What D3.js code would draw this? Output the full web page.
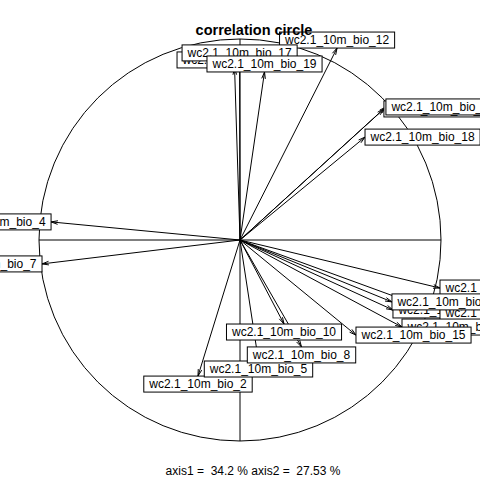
<!DOCTYPE html>
<html><head><meta charset="utf-8">
<script src="https://cdn.jsdelivr.net/npm/d3@7"></script>
<style>html,body{margin:0;padding:0;background:#fff;}svg{display:block;}</style>
</head><body>
<svg id="chart" width="480" height="480"></svg>
<script>
const varNames = ["wc2.1_10m_bio_1","wc2.1_10m_bio_2","wc2.1_10m_bio_3","wc2.1_10m_bio_4","wc2.1_10m_bio_5",
  "wc2.1_10m_bio_6","wc2.1_10m_bio_7","wc2.1_10m_bio_8","wc2.1_10m_bio_9","wc2.1_10m_bio_10",
  "wc2.1_10m_bio_11","wc2.1_10m_bio_12","wc2.1_10m_bio_13","wc2.1_10m_bio_14","wc2.1_10m_bio_15",
  "wc2.1_10m_bio_16","wc2.1_10m_bio_17","wc2.1_10m_bio_18","wc2.1_10m_bio_19"];
const axis1 = [0.761,-0.209,0.995,-0.940,0.092,0.995,-0.985,0.306,0.806,0.219,0.756,0.483,0.716,-0.027,0.577,0.726,-0.002,0.622,0.122];
const axis2 = [-0.348,-0.677,-0.239,0.090,-0.602,-0.363,-0.119,-0.532,-0.433,-0.418,-0.308,0.955,0.652,0.856,-0.473,0.662,0.891,0.512,0.836];
const inertia = [34.2, 27.53];
const titleText = "correlation circle";

const svg = d3.select("#chart");
const cx = 240, cy = 240, R = 201;
const x = d3.scaleLinear().domain([-1,1]).range([cx-R, cx+R]);
const y = d3.scaleLinear().domain([-1,1]).range([cy+R, cy-R]);
const font = "'Liberation Sans', Arial, sans-serif";

// circle and axes
svg.append("circle").attr("cx", x(0)).attr("cy", y(0)).attr("r", x(1)-x(0))
  .attr("fill","none").attr("stroke","#000").attr("stroke-width",1);
svg.append("line").attr("x1",x(-1)).attr("x2",x(1)).attr("y1",y(0)).attr("y2",y(0)).attr("stroke","#000");
svg.append("line").attr("x1",x(0)).attr("x2",x(0)).attr("y1",y(1)).attr("y2",y(-1)).attr("stroke","#000");

const data = varNames.map((n,i)=>({name:n, a:axis1[i], b:axis2[i]}));

// arrows
const ah = 7, ang = 15*Math.PI/180;
const g = svg.append("g");
data.forEach(d=>{
  const x0=x(0), y0=y(0), x1=x(d.a), y1=y(d.b);
  const th = Math.atan2(y1-y0, x1-x0);
  const p1 = [x1 - ah*Math.cos(th-ang), y1 - ah*Math.sin(th-ang)];
  const p2 = [x1 - ah*Math.cos(th+ang), y1 - ah*Math.sin(th+ang)];
  g.append("line").attr("x1",x0).attr("y1",y0).attr("x2",x1).attr("y2",y1).attr("stroke","#000");
  g.append("path").attr("d",`M${p1[0]},${p1[1]}L${x1},${y1}L${p2[0]},${p2[1]}`)
    .attr("fill","none").attr("stroke","#000");
});

// labels (boxes)
const pad = 5.5, hh = 8;
data.forEach(d=>{
  const lg = svg.append("g");
  const rect = lg.append("rect").attr("fill","#fff").attr("stroke","#000");
  const t = lg.append("text").text(d.name).attr("font-family",font).attr("font-size","12px")
    .attr("text-anchor","middle").attr("fill","#000");
  const w = t.node().getComputedTextLength() + 2*pad;
  const px = x(d.a), py = y(d.b);
  const xr = d.a, yr = d.b;
  let bx, by; // box center
  if (xr > yr && xr > -yr) { bx = px + w/2; by = py; }
  else if (xr > yr && xr <= -yr) { bx = px; by = py + hh; }
  else if (xr <= yr && xr <= -yr) { bx = px - w/2; by = py; }
  else { bx = px; by = py - hh; }
  rect.attr("x", bx - w/2).attr("y", by - hh).attr("width", w).attr("height", 2*hh);
  t.attr("x", bx).attr("y", by).attr("dy","0.36em");
});

// title
svg.append("text").attr("x",254).attr("y",35).attr("text-anchor","middle")
  .attr("font-family",font).attr("font-weight","bold").attr("font-size","14.5px").text(titleText);

// footer
svg.append("text").attr("x",253).attr("y",475).attr("text-anchor","middle")
  .attr("font-family",font).attr("font-size","12px").style("white-space","pre")
  .text(`axis1 =  ${inertia[0]} % axis2 =  ${inertia[1]} %`);
</script>
</body></html>
